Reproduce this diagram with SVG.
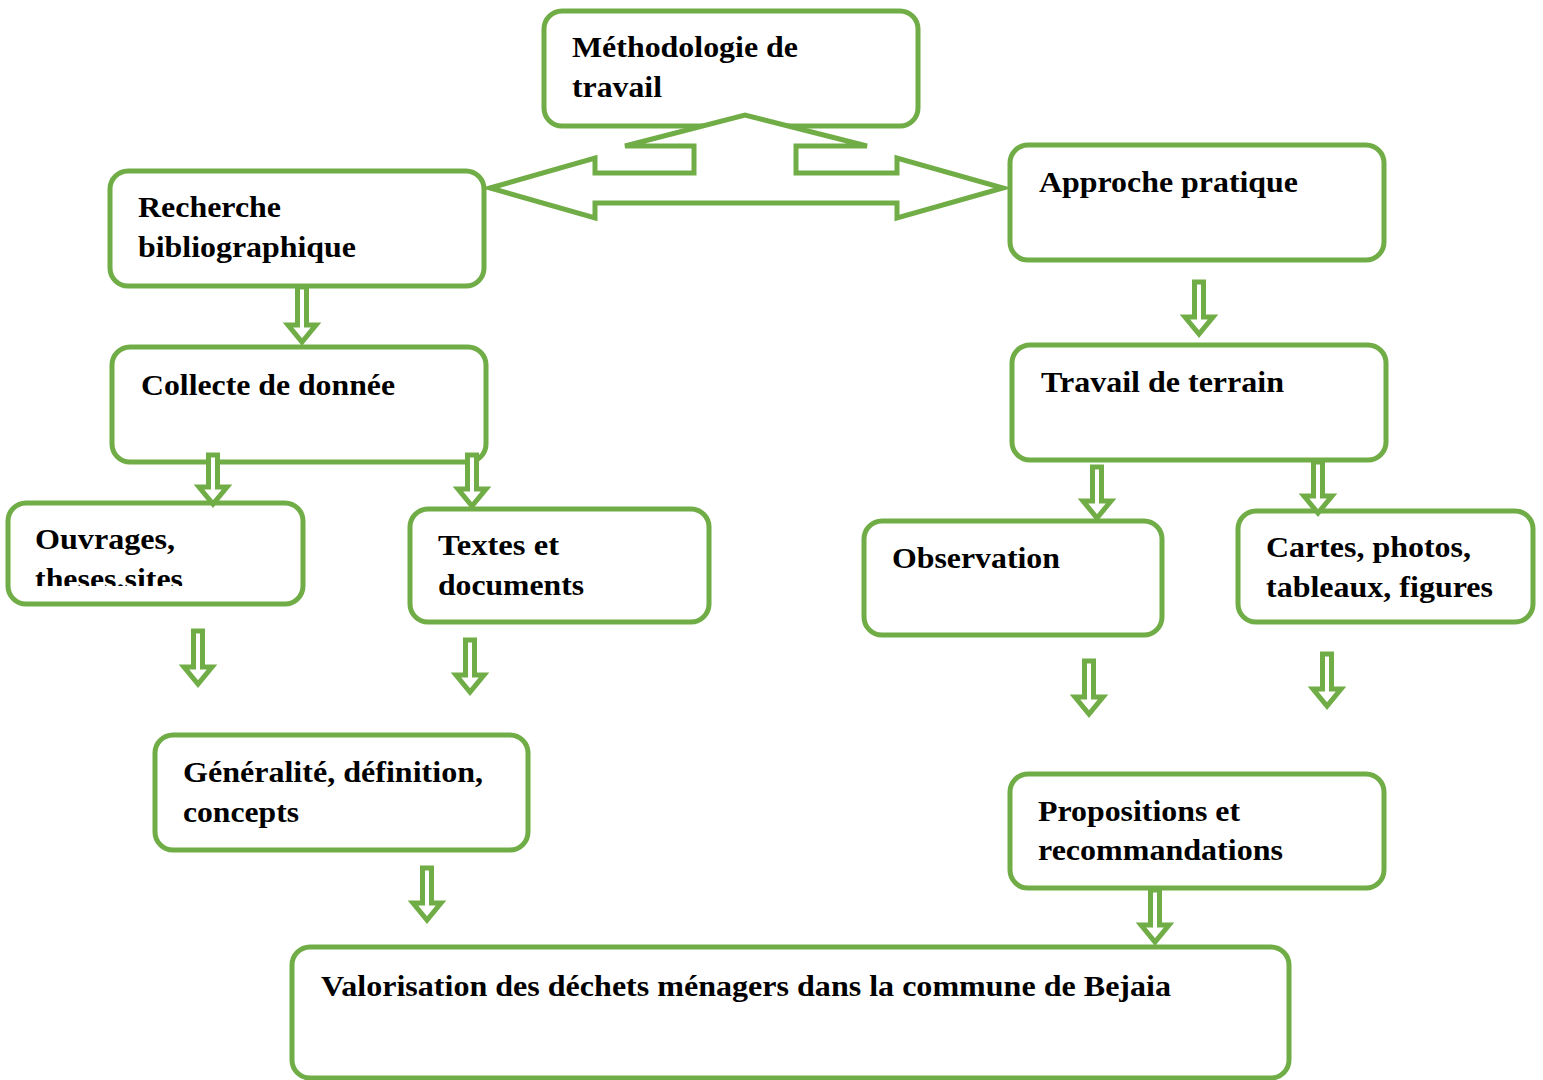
<svg xmlns="http://www.w3.org/2000/svg" width="1543" height="1080" viewBox="0 0 1543 1080">
<style>
.box{fill:#fff;stroke:#70AD47;stroke-width:5}
.arr{fill:#fff;stroke:#70AD47;stroke-width:5;stroke-linejoin:miter}
text{font-family:"Liberation Serif","Times New Roman",serif;font-weight:bold;font-size:30px;fill:#000}
</style>
<defs>
<clipPath id="clipOuv"><rect x="10" y="505" width="290" height="81"/></clipPath>
</defs>
<rect width="1543" height="1080" fill="#fff"/>
<g id="n-methodo"><rect class="box" x="544" y="11" width="374" height="115" rx="18"/><text x="572" y="57" textLength="226" lengthAdjust="spacingAndGlyphs">Méthodologie de</text><text x="572" y="97" textLength="90" lengthAdjust="spacingAndGlyphs">travail</text></g>
<g id="n-recherche"><rect class="box" x="110" y="171" width="374" height="115" rx="18"/><text x="138" y="217" textLength="143" lengthAdjust="spacingAndGlyphs">Recherche</text><text x="138" y="257" textLength="218" lengthAdjust="spacingAndGlyphs">bibliographique</text></g>
<g id="n-approche"><rect class="box" x="1010" y="145" width="374" height="115" rx="18"/><text x="1039" y="192" textLength="259" lengthAdjust="spacingAndGlyphs">Approche pratique</text></g>
<g id="n-collecte"><rect class="box" x="112" y="347" width="374" height="115" rx="18"/><text x="141" y="395" textLength="254" lengthAdjust="spacingAndGlyphs">Collecte de donnée</text></g>
<g id="n-travail"><rect class="box" x="1012" y="345" width="374" height="115" rx="18"/><text x="1041" y="392" textLength="243" lengthAdjust="spacingAndGlyphs">Travail de terrain</text></g>
<g id="n-ouvrages"><rect class="box" x="8" y="503" width="295" height="101" rx="18"/><text x="35" y="549" textLength="140" lengthAdjust="spacingAndGlyphs">Ouvrages,</text><text x="35" y="589" textLength="148" lengthAdjust="spacingAndGlyphs" clip-path="url(#clipOuv)">theses.sites</text></g>
<g id="n-textes"><rect class="box" x="410" y="509" width="299" height="113" rx="18"/><text x="438" y="555" textLength="121" lengthAdjust="spacingAndGlyphs">Textes et</text><text x="438" y="595" textLength="146" lengthAdjust="spacingAndGlyphs">documents</text></g>
<g id="n-observation"><rect class="box" x="864" y="521" width="298" height="114" rx="18"/><text x="892" y="568" textLength="168" lengthAdjust="spacingAndGlyphs">Observation</text></g>
<g id="n-cartes"><rect class="box" x="1238" y="511" width="295" height="111" rx="18"/><text x="1266" y="557" textLength="205" lengthAdjust="spacingAndGlyphs">Cartes, photos,</text><text x="1266" y="597" textLength="227" lengthAdjust="spacingAndGlyphs">tableaux, figures</text></g>
<g id="n-generalite"><rect class="box" x="155" y="735" width="373" height="115" rx="18"/><text x="183" y="782" textLength="300" lengthAdjust="spacingAndGlyphs">Généralité, définition,</text><text x="183" y="822" textLength="116" lengthAdjust="spacingAndGlyphs">concepts</text></g>
<g id="n-propositions"><rect class="box" x="1010" y="774" width="374" height="114" rx="18"/><text x="1038" y="821" textLength="202" lengthAdjust="spacingAndGlyphs">Propositions et</text><text x="1038" y="860" textLength="245" lengthAdjust="spacingAndGlyphs">recommandations</text></g>
<g id="n-valorisation"><rect class="box" x="292" y="947" width="997" height="131" rx="18"/><text x="321" y="996" textLength="850" lengthAdjust="spacingAndGlyphs">Valorisation des déchets ménagers dans la commune de Bejaia</text></g>
<g id="connectors">
<path class="arr" d="M490,188 L595,158 L595,173 L694,173 L694,146 L625,146 L745,115 L867,146 L796,146 L796,173 L897,173 L897,158 L1003,188 L897,218 L897,203 L595,203 L595,218 Z"/>
<path class="arr" d="M297.5,287 V325 H288 L302,342 L316,325 H306.5 V287 Z"/>
<path class="arr" d="M208.5,455 V487 H199 L213,504 L227,487 H217.5 V455 Z"/>
<path class="arr" d="M467.5,455 V489 H458 L472,506 L486,489 H476.5 V455 Z"/>
<path class="arr" d="M193.5,631 V667 H184 L198,684 L212,667 H202.5 V631 Z"/>
<path class="arr" d="M465.5,640 V675 H456 L470,692 L484,675 H474.5 V640 Z"/>
<path class="arr" d="M1194.5,282 V317 H1185 L1199,334 L1213,317 H1203.5 V282 Z"/>
<path class="arr" d="M1092.5,467 V501 H1083 L1097,518 L1111,501 H1101.5 V467 Z"/>
<path class="arr" d="M1313.5,462 V496 H1304 L1318,513 L1332,496 H1322.5 V462 Z"/>
<path class="arr" d="M1084.5,661 V697 H1075 L1089,714 L1103,697 H1093.5 V661 Z"/>
<path class="arr" d="M1322.5,654 V689 H1313 L1327,706 L1341,689 H1331.5 V654 Z"/>
<path class="arr" d="M422.5,868 V903 H413 L427,920 L441,903 H431.5 V868 Z"/>
<path class="arr" d="M1150.5,890 V925 H1141 L1155,942 L1169,925 H1159.5 V890 Z"/>
</g>
</svg>
